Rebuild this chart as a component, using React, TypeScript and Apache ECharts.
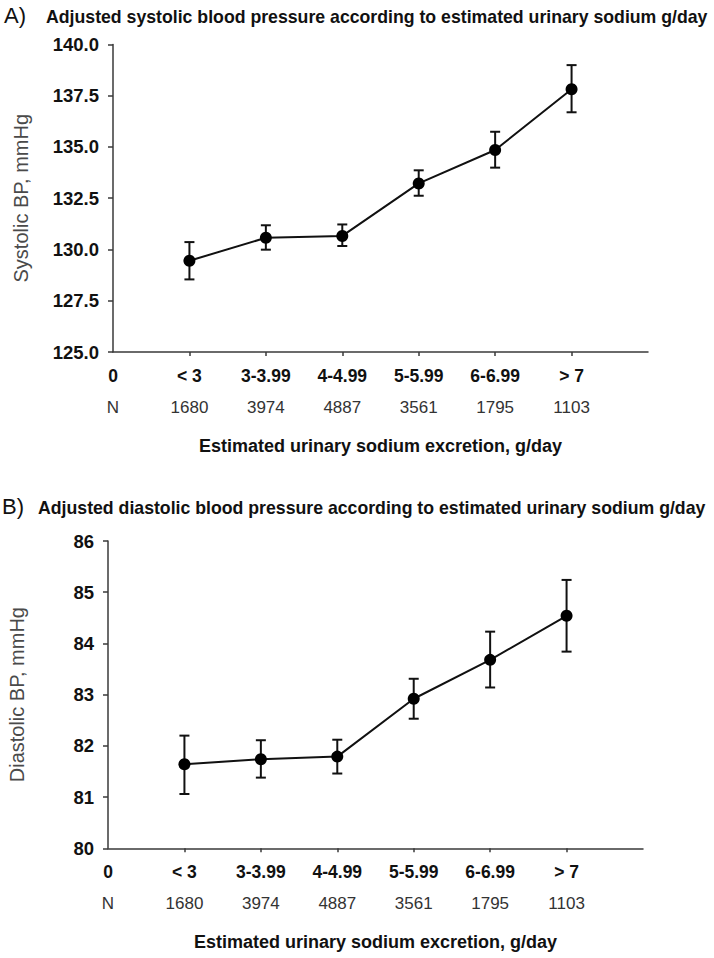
import React, { useEffect, useRef } from "react";
import * as echarts from "echarts";

const xPositions = [1, 2, 3, 4, 5, 6];
const categoryLabels = ["0", "< 3", "3-3.99", "4-4.99", "5-5.99", "6-6.99", "> 7"];
const nLabels = ["N", "1680", "3974", "4887", "3561", "1795", "1103"];

const systolicMean = [129.45, 130.57, 130.66, 133.22, 134.85, 137.81];
const systolicLow = [128.54, 129.99, 130.17, 132.62, 133.99, 136.69];
const systolicHigh = [130.36, 131.18, 131.22, 133.86, 135.74, 138.99];

const diastolicMean = [81.64, 81.74, 81.79, 82.92, 83.68, 84.54];
const diastolicLow = [81.06, 81.38, 81.46, 82.53, 83.14, 83.84];
const diastolicHigh = [82.2, 82.11, 82.12, 83.31, 84.23, 85.24];

const FONT = "'Liberation Sans', Arial, sans-serif";
const AXIS_COLOR = "#3a3a3a";

function errorRender(params: any, api: any) {
  const x = api.value(0);
  const lo = api.coord([x, api.value(1)]);
  const hi = api.coord([x, api.value(2)]);
  const w = 5;
  const style = { stroke: "#111", lineWidth: 2 };
  return {
    type: "group",
    children: [
      { type: "line", shape: { x1: hi[0], y1: hi[1], x2: lo[0], y2: lo[1] }, style },
      { type: "line", shape: { x1: hi[0] - w, y1: hi[1], x2: hi[0] + w, y2: hi[1] }, style },
      { type: "line", shape: { x1: lo[0] - w, y1: lo[1], x2: lo[0] + w, y2: lo[1] }, style },
    ],
  };
}

function xAxes(gridIndex: number) {
  const custom = [0, 1, 2, 3, 4, 5, 6];
  return [
    {
      type: "value",
      gridIndex,
      min: 0,
      max: 7,
      interval: 1,
      splitLine: { show: false },
      axisLine: { show: true, lineStyle: { color: AXIS_COLOR, width: 1.5 } },
      axisTick: { show: true, customValues: [1, 2, 3, 4, 5, 6], length: 4, lineStyle: { color: AXIS_COLOR, width: 1.5 } },
      axisLabel: {
        customValues: custom,
        margin: 15,
        fontFamily: FONT,
        fontWeight: "bold",
        fontSize: 17.5,
        color: "#111",
        formatter: (v: number) => categoryLabels[Math.round(v)] ?? "",
      },
      name: "Estimated urinary sodium excretion, g/day",
      nameLocation: "middle",
      nameGap: 85,
      nameTextStyle: { fontFamily: FONT, fontWeight: "bold", fontSize: 18, color: "#111" },
    },
    {
      type: "value",
      gridIndex,
      min: 0,
      max: 7,
      interval: 1,
      position: "bottom",
      offset: 39,
      splitLine: { show: false },
      axisLine: { show: false },
      axisTick: { show: false },
      axisLabel: {
        customValues: custom,
        margin: 8,
        fontFamily: FONT,
        fontSize: 17,
        color: "#333",
        formatter: (v: number) => nLabels[Math.round(v)] ?? "",
      },
    },
  ];
}

function yAxis(gridIndex: number, min: number, max: number, interval: number, digits: number, name: string, gap: number) {
  return {
    type: "value",
    gridIndex,
    min,
    max,
    interval,
    splitLine: { show: false },
    axisLine: { show: true, lineStyle: { color: AXIS_COLOR, width: 1.5 } },
    axisTick: { show: true, length: 5, lineStyle: { color: AXIS_COLOR, width: 1.5 } },
    axisLabel: {
      margin: 14,
      fontFamily: FONT,
      fontWeight: "bold",
      fontSize: 18.5,
      color: "#111",
      formatter: (v: number) => v.toFixed(digits),
    },
    name,
    nameLocation: "middle",
    nameRotate: 90,
    nameGap: gap,
    nameTextStyle: { fontFamily: FONT, fontSize: 20, color: "#4a4a4a" },
  };
}

export default function App() {
  const ref = useRef<HTMLDivElement>(null);
  useEffect(() => {
    if (!ref.current) return;
    const chart = echarts.init(ref.current, null, { renderer: "svg" });
    const lineSeries = (idx: number, means: number[]) => ({
      type: "line",
      xAxisIndex: idx * 2,
      yAxisIndex: idx,
      data: xPositions.map((x, i) => [x, means[i]]),
      symbol: "circle",
      symbolSize: 12,
      itemStyle: { color: "#000" },
      lineStyle: { color: "#111", width: 2 },
      z: 3,
    });
    const errSeries = (idx: number, lows: number[], highs: number[]) => ({
      type: "custom",
      xAxisIndex: idx * 2,
      yAxisIndex: idx,
      data: xPositions.map((x, i) => [x, lows[i], highs[i]]),
      encode: { x: 0, y: [1, 2] },
      renderItem: errorRender,
      z: 2,
    });
    chart.setOption({
      animation: false,
      backgroundColor: "#fff",
      grid: [
        { left: 113, top: 44.4, width: 535, height: 307.6, outerBoundsMode: "none", containLabel: false },
        { left: 108, top: 541, width: 535, height: 307.3, outerBoundsMode: "none", containLabel: false },
      ],
      xAxis: [...xAxes(0), ...xAxes(1)],
      yAxis: [
        yAxis(0, 125, 140, 2.5, 1, "Systolic BP, mmHg", 82),
        yAxis(1, 80, 86, 1, 0, "Diastolic BP, mmHg", 81),
      ],
      series: [
        errSeries(0, systolicLow, systolicHigh),
        lineSeries(0, systolicMean),
        errSeries(1, diastolicLow, diastolicHigh),
        lineSeries(1, diastolicMean),
      ],
      graphic: [
        { type: "text", left: 4, top: 4, style: { text: "A)", fontFamily: FONT, fontSize: 22, fill: "#111" } },
        {
          type: "text",
          left: 46,
          top: 8,
          style: { text: "Adjusted systolic blood pressure according to estimated urinary sodium g/day", fontFamily: FONT, fontWeight: "bold", fontSize: 17.7, fill: "#111" },
        },
        { type: "text", left: 2, top: 495, style: { text: "B)", fontFamily: FONT, fontSize: 22, fill: "#111" } },
        {
          type: "text",
          left: 38,
          top: 499,
          style: { text: "Adjusted diastolic blood pressure according to estimated urinary sodium g/day", fontFamily: FONT, fontWeight: "bold", fontSize: 17.7, fill: "#111" },
        },
      ],
    });
    return () => chart.dispose();
  }, []);
  return <div ref={ref} style={{ position: "absolute", left: 0, top: 0, width: 714, height: 958 }} />;
}
